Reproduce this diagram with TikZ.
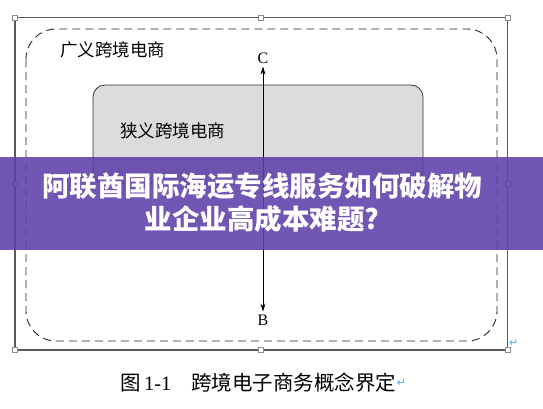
\documentclass[tikz,border=0pt]{standalone}
\usepackage{fontspec}
\setmainfont{Liberation Serif}
\newfontfamily\cjk{Noto Sans CJK SC}
\newfontfamily\symb{DejaVu Sans}
\usetikzlibrary{arrows.meta}
\definecolor{frameg}{HTML}{5A5A5A}
\definecolor{boxfill}{HTML}{DCDCDC}
\definecolor{banner}{HTML}{5E3FAA}
\definecolor{retblue}{HTML}{5AAAE6}
\tikzset{
  handle/.style={draw=frameg!70,fill=white,line width=0.5pt,minimum size=5pt,inner sep=0pt,rectangle},
  lbl/.style={font=\cjk\fontsize{17.5}{20}\selectfont,inner sep=0pt,anchor=west},
  letter/.style={font=\fontsize{16}{18}\selectfont,inner sep=0pt},
  ret/.style={font=\symb\fontsize{11}{12}\selectfont,text=retblue,inner sep=0pt}
}
\begin{document}
\begin{tikzpicture}[x=1pt,y=-1pt]
\useasboundingbox (0,0) rectangle (543,408);
\fill[white] (0,0) rectangle (543,408);
% outer frame
\draw[frameg,line width=1.3pt] (15,17.5) rectangle (507.5,350);
% dashed rounded rect
\draw[black!85,line width=0.9pt,dash pattern=on 8pt off 5pt,rounded corners=30pt] (26,29) rectangle (497,341);
% gray narrow box
\draw[black!80,fill=boxfill,line width=0.8pt,rounded corners=12pt] (93,85) rectangle (423,184);
\node[lbl] (wide) at (60,50) {广义跨境电商};
\node[lbl] (narrow) at (120,131) {狭义跨境电商};
\node[letter] (C) at (263,58) {C};
\node[letter] (B) at (263,320) {B};
\draw[black,line width=0.8pt,shorten <=3pt,shorten >=3pt,{Stealth[length=8pt,width=5pt]}-{Stealth[length=8pt,width=5pt]}] (C.south) -- (B.north);
% handles
\foreach \p/\n in {{15,17.5}/h1,{261,17.5}/h2,{507.5,17.5}/h3,{15,184}/h4,{507.5,184}/h5,{15,350}/h6,{261,350}/h7,{507.5,350}/h8}
  \node[handle] (\n) at (\p) {};
\node[ret,anchor=west] (r1) at (509,343) {↵};
% caption
\node[font=\cjk\fontsize{20.5}{24}\selectfont,inner sep=0pt,anchor=west] (cap) at (120,383) {图\,{\fontspec{Liberation Serif}1-1}\hspace{20pt}跨境电子商务概念界定};
\node[ret,anchor=west] (r2) at (cap.east) {↵};
% banner
\fill[banner,opacity=0.88] (0,157) rectangle (543,250);
\node[font=\cjk\bfseries\fontsize{27.5}{33}\selectfont,text=white,align=center,inner sep=0pt] (title) at (262,203) {阿联酋国际海运专线服务如何破解物\\业企业高成本难题?};
\end{tikzpicture}
\end{document}
